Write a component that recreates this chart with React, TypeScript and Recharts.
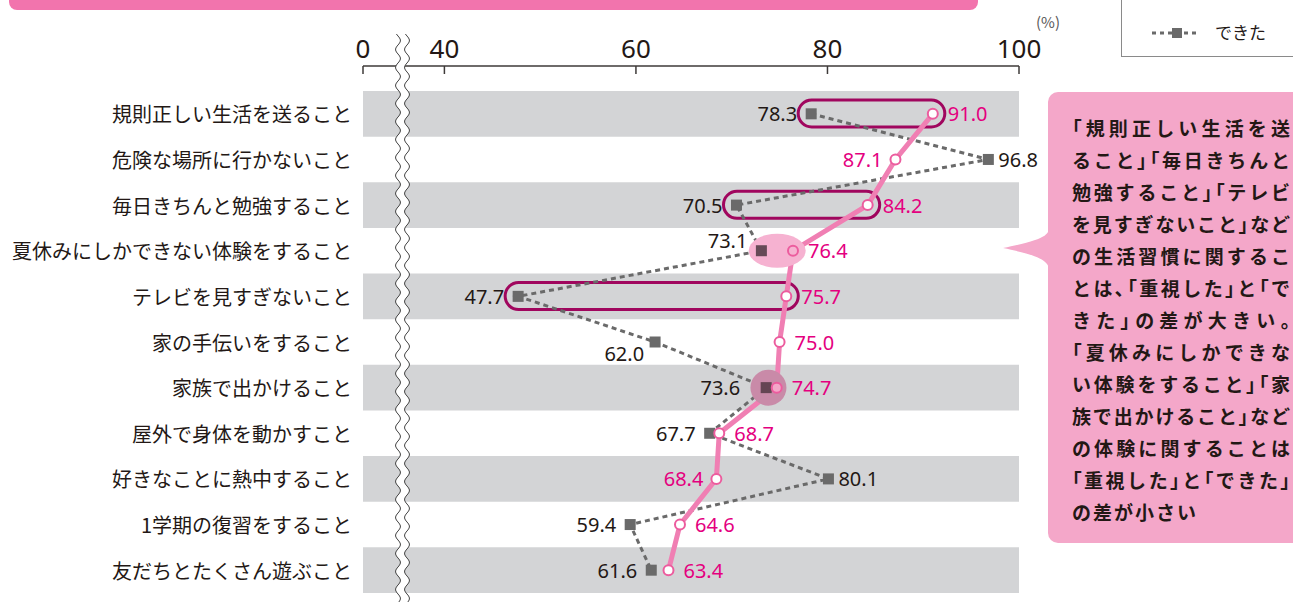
import { ComposedChart, XAxis, YAxis, Line, Bar, ReferenceArea, LabelList } from 'recharts';

const categories = [
  '規則正しい生活を送ること',
  '危険な場所に行かないこと',
  '毎日きちんと勉強すること',
  '夏休みにしかできない体験をすること',
  'テレビを見すぎないこと',
  '家の手伝いをすること',
  '家族で出かけること',
  '屋外で身体を動かすこと',
  '好きなことに熱中すること',
  '1学期の復習をすること',
  '友だちとたくさん遊ぶこと',
];
// 重視した / できた (%)
const juushi = [91.0, 87.1, 84.2, 76.4, 75.7, 75.0, 74.7, 68.7, 68.4, 64.6, 63.4];
const dekita = [78.3, 96.8, 70.5, 73.1, 47.7, 62.0, 73.6, 67.7, 80.1, 59.4, 61.6];

const boxedRows = [0, 2, 4];
const ellipseRows = [3];
const circleRows = [6];

// axis is broken between 0 and 40; 31.5 is where the "0" sits
const xTicks = [31.5, 40, 60, 80, 100];
const xTickLabels = ['0', '40', '60', '80', '100'];

const noteLines = [
  '「規則正しい生活を送',
  'ること」「毎日きちんと',
  '勉強すること」「テレビ',
  'を見すぎないこと」など',
  'の生活習慣に関するこ',
  'とは､「重視した」と「で',
  'きた」の差が大きい。',
  '「夏休みにしかできな',
  'い体験をすること」「家',
  '族で出かけること」など',
  'の体験に関することは',
  '「重視した」と「できた」',
  'の差が小さい',
];

const rows = categories.map((name, i) => {
  const lo = Math.min(juushi[i], dekita[i]);
  const hi = Math.max(juushi[i], dekita[i]);
  const isEllipse = ellipseRows.includes(i);
  const isCircle = circleRows.includes(i);
  return {
    name,
    juushi: juushi[i],
    dekita: dekita[i],
    box: boxedRows.includes(i) ? [lo, hi] : null,
    mark: isEllipse || isCircle ? (lo + hi) / 2 : null,
    markType: isEllipse ? 'ellipse' : isCircle ? 'circle' : null,
  };
});

const PINK = '#f07fb3';
const PINK_TEXT = '#e4007f';
const GRAY = '#6a6a6a';
const INK = '#231815';
const NUM_FONT = '"Noto Sans", sans-serif';
const JP_FONT = '"Noto Sans CJK JP", sans-serif';

const markFill: Record<string, string> = { ellipse: '#f6b2d1', circle: '#f3a6c8' };
const markSquare: Record<string, string> = { ellipse: '#664a57', circle: '#654553' };

const grayNudge: Record<number, [number, number]> = { 3: [-14, -10], 5: [-11, 11], 6: [-26, 0] };

function pos(props: any) {
  const vb = props.viewBox || {};
  return { x: props.x ?? vb.x, y: props.y ?? vb.y };
}

const grayLabel = (props: any) => {
  const { index, value } = props;
  const { x, y } = pos(props);
  if (x == null || y == null) return null;
  const right = dekita[index] > juushi[index];
  let dx = right ? 10 : -14;
  let dy = 0;
  if (grayNudge[index]) [dx, dy] = grayNudge[index];
  return (
    <text x={x + dx} y={y + dy} textAnchor={right ? 'start' : 'end'} dominantBaseline="central"
      fontSize={20} fontFamily={NUM_FONT} fill={INK}>
      {Number(value).toFixed(1)}
    </text>
  );
};

const pinkLabel = (props: any) => {
  const { index, value } = props;
  const { x, y } = pos(props);
  if (x == null || y == null) return null;
  const left = juushi[index] < dekita[index];
  return (
    <text x={x + (left ? -13 : 15)} y={y} textAnchor={left ? 'end' : 'start'} dominantBaseline="central"
      fontSize={20} fontFamily={NUM_FONT} fill={PINK_TEXT}>
      {Number(value).toFixed(1)}
    </text>
  );
};

const squareDot = (props: any) => {
  const { cx, cy, index, payload } = props;
  if (cx == null || cy == null) return <g key={index} />;
  const fill = payload && payload.markType ? markSquare[payload.markType] : GRAY;
  return <rect key={index} x={cx - 5.5} y={cy - 5.5} width={11} height={11} fill={fill} />;
};

const ringDot = (props: any) => {
  const { cx, cy, index, payload } = props;
  if (cx == null || cy == null) return <g key={index} />;
  const fill = payload && payload.markType ? markFill[payload.markType] : '#fff';
  return <circle key={index} cx={cx} cy={cy} r={5} fill={fill} stroke="#ec5c9e" strokeWidth={2} />;
};

const markDot = (props: any) => {
  const { cx, cy, index, payload } = props;
  if (cx == null || cy == null || !payload || !payload.markType) return <g key={index} />;
  if (payload.markType === 'ellipse') {
    return <ellipse key={index} cx={cx} cy={cy} rx={28.5} ry={17} fill={markFill.ellipse} />;
  }
  return <circle key={index} cx={cx - 3} cy={cy} r={18} fill="#c98aa8" />;
};

const boxShape = (props: any) => {
  const { x, y, width, height, payload } = props;
  if (!payload || !payload.box) return <g />;
  const h = 27;
  return (
    <rect x={x - 13} y={y + height / 2 - h / 2} width={width + 25} height={h} rx={h / 2}
      fill="none" stroke="#a0065e" strokeWidth={3} />
  );
};

const catTick = (props: any) => {
  const { x, y, payload } = props;
  return (
    <text x={x} y={y} textAnchor="end" dominantBaseline="central" fontSize={20} fontFamily={JP_FONT} fill={INK}>
      {payload.value}
    </text>
  );
};

function wavePath(x0: number, y0: number, y1: number, reverse = false) {
  const pts: string[] = [];
  for (let y = y0; y <= y1; y += 2) {
    pts.push(`${(x0 + 2.5 * Math.sin((y / 18) * Math.PI * 2)).toFixed(2)},${y}`);
  }
  if (reverse) pts.reverse();
  return pts;
}

function NoteLine({ text, last }: { text: string; last: boolean }) {
  const parts = text.split(/([「」、。､])/).filter((s) => s !== '');
  return (
    <div style={{ width: 218, whiteSpace: 'nowrap', textAlign: last ? 'left' : 'justify', textAlignLast: last ? 'left' : 'justify',
      textJustify: 'inter-character', letterSpacing: last ? 2 : 0 } as any}>
      {parts.map((p, i) => /^[「」、。､]$/.test(p)
        ? <span key={i} style={{ fontFeatureSettings: '"palt"' }}>{p}</span>
        : <span key={i}>{p}</span>)}
    </div>
  );
}

export default function App() {
  const left = wavePath(398, 34, 604);
  const right = wavePath(407, 34, 604);
  const fillPts = [...left, ...wavePath(407, 34, 604, true)];
  return (
    <div style={{ position: 'absolute', left: 0, top: 0, width: 1293, height: 602, overflow: 'hidden', background: '#fff', fontFamily: JP_FONT }}>
      <div style={{ position: 'absolute', left: 9, top: -10, width: 969, height: 20, background: '#f274ad', borderRadius: 8 }} />

      <ComposedChart width={1293} height={602} data={rows} layout="vertical"
        margin={{ top: 16, right: 274, bottom: 9, left: 0 }}>
        <XAxis type="number" orientation="top" domain={[31.5, 100]} ticks={xTicks} allowDataOverflow
          height={50} tickSize={-8} tickMargin={16} interval={0}
          tickFormatter={(v: number) => xTickLabels[xTicks.indexOf(v)]}
          stroke="#3e3a39" axisLine={{ strokeWidth: 1.5 }} tickLine={{ strokeWidth: 1.5 }}
          tick={{ fill: INK, fontSize: 26, fontFamily: NUM_FONT }} />
        <YAxis type="category" dataKey="name" width={363} padding={{ top: 25, bottom: 0 }}
          axisLine={false} tickLine={false} tickSize={0} tickMargin={11} interval={0} tick={catTick} />
        {rows.map((r, i) => i % 2 === 0 ? (
          <ReferenceArea key={r.name} y1={r.name} y2={r.name} x1={31.5} x2={100}
            fill="#d3d4d6" fillOpacity={1} stroke="none" ifOverflow="visible" />
        ) : null)}
        <Bar dataKey="box" barSize={27} shape={boxShape} legendType="none" isAnimationActive={false} />
        <Line dataKey="mark" stroke="none" dot={markDot} activeDot={false} legendType="none" isAnimationActive={false} />
        <Line dataKey="dekita" name="できた" stroke={GRAY} strokeWidth={3} strokeDasharray="5 4"
          dot={squareDot} activeDot={false} isAnimationActive={false}>
          <LabelList dataKey="dekita" content={grayLabel} />
        </Line>
        <Line dataKey="juushi" name="重視した" stroke={PINK} strokeWidth={5}
          dot={ringDot} activeDot={false} isAnimationActive={false}>
          <LabelList dataKey="juushi" content={pinkLabel} />
        </Line>
      </ComposedChart>

      <svg width={1293} height={602} style={{ position: 'absolute', left: 0, top: 0, pointerEvents: 'none' }}>
        <polygon points={fillPts.join(' ')} fill="#fff" />
        <polyline points={left.join(' ')} fill="none" stroke="#444" strokeWidth={1} />
        <polyline points={right.join(' ')} fill="none" stroke="#444" strokeWidth={1} />
        <path d="M1050,222 C1050,236 1046,239 1003,248 C1046,257 1050,262 1050,276 Z" fill="#f4a7c9" />
      </svg>

      <div style={{ position: 'absolute', left: 1036, top: 11, fontSize: 15, color: '#595757' }}>(%)</div>

      <div style={{ position: 'absolute', left: 1121, top: -10, width: 200, height: 67, border: '1.5px solid #8a8a8a', boxSizing: 'border-box' }}>
        <svg width={48} height={12} style={{ position: 'absolute', left: 30, top: 36 }}>
          <line x1={0} y1={6} x2={48} y2={6} stroke={GRAY} strokeWidth={3} strokeDasharray="4 4" />
          <rect x={20} y={1} width={10} height={10} fill={GRAY} />
        </svg>
        <div style={{ position: 'absolute', left: 93, top: 29, fontSize: 17, lineHeight: '24px', color: INK }}>できた</div>
      </div>

      <div style={{ position: 'absolute', left: 1048, top: 92, width: 260, height: 451, background: '#f4a7c9', borderRadius: 10,
        boxSizing: 'border-box', paddingLeft: 24, paddingTop: 20, fontSize: 19, lineHeight: '32px', fontWeight: 700, color: INK }}>
        {noteLines.map((t, i) => <NoteLine key={t} text={t} last={i === noteLines.length - 1} />)}
      </div>
    </div>
  );
}
